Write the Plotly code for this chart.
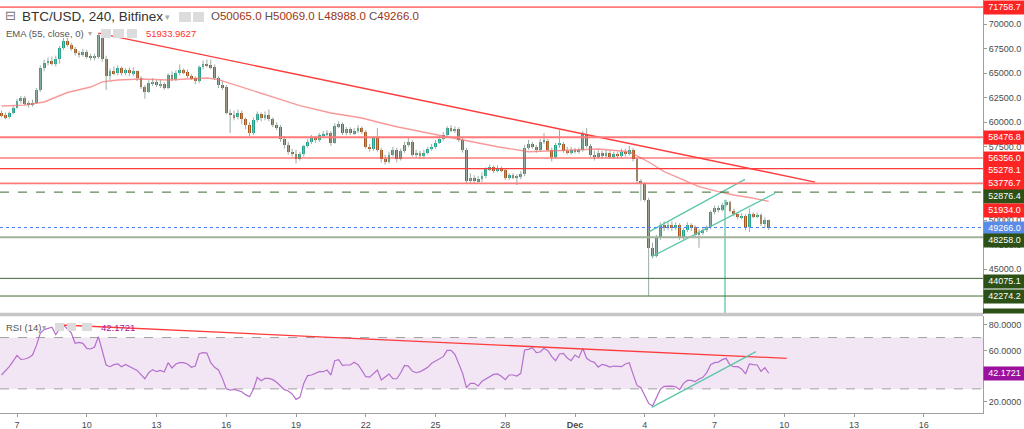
import pandas as pd
import plotly.graph_objects as go

# ---------------- data ----------------
candle_start = "2021-11-06 08:00"   # 4h candles (Bitfinex BTC/USD, 240)

opens = [60900,60700,60500,60900,61500,62200,62500,61900,61800,62000,
         63300,65500,66100,66300,66000,66500,67600,68300,67900,67500,
         67100,66900,67200,66700,66600,66700,68900,66500,64700,65200,
         65000,65500,65000,65300,65000,65200,64500,63600,63100,64000,
         64100,63800,63900,63500,64800,64400,65000,65300,65100,64700,
         64500,64200,65600,65900,65800,65600,64500,63800,63600,61000,
         60700,60500,60900,60300,59700,58900,60200,60800,60400,60700,
         60300,59700,59500,58300,57700,57000,56800,56300,56800,57600,
         58000,58400,58200,58700,58800,58900,57900,59600,59800,58900,
         59300,58900,59100,59400,59000,57500,57300,58400,57200,56300,
         56000,56700,57200,56300,57100,57700,58000,56700,56900,56600,
         56900,57300,57500,57900,58300,58700,59400,59200,59300,58200,
         57200,54000,54300,54000,54200,54500,55200,55400,55000,55300,
         55100,54300,54600,54400,54500,54700,57400,57800,57500,57200,
         58000,58100,57200,56500,57700,57800,57100,56900,57200,57000,
         57200,58800,57600,56700,56500,56900,56600,56900,56500,56800,
         56600,57000,56800,57200,56300,54000,53700,52100,47200,46400,
         48200,49500,49300,49500,49200,49500,48200,49000,49500,49300,
         48500,48800,49000,49300,50800,51300,51100,51600,51900,51000,
         50600,50300,50400,49300,50600,50400,50500,49600,50065.0]

highs = [61200,61000,61100,61700,62400,62700,62700,62200,62300,63500,
         65800,66400,66600,66700,66800,67800,68600,68600,68100,67700,
         67300,67500,67400,67000,67000,69100,69200,66800,65500,65700,
         65800,65700,65500,65600,65600,65300,64700,63800,64300,64500,
         64300,64300,64100,65000,65200,65300,65900,65500,65400,64900,
         64700,65800,66300,66400,66400,65900,64700,64200,63800,61300,
         61200,61300,61200,60500,60000,60500,61100,61000,61100,61300,
         60500,60000,59700,58600,58000,57300,57200,57000,57700,58300,
         58700,58600,58900,59100,59200,59100,59900,60100,60000,59500,
         59500,59400,59700,59600,59200,57800,58600,59400,57400,56700,
         57000,57500,57400,57300,58000,58400,58200,57200,57100,57200,
         57500,57800,58200,58600,59000,59600,59700,59600,59500,58400,
         57400,54800,54600,54500,54900,55400,55700,55600,55600,55500,
         55300,54800,54800,54700,55000,57700,58200,58000,57700,58300,
         58900,58300,57400,57900,59200,58000,57500,57500,57400,57400,
         59100,59400,57800,57100,57200,57100,57200,57100,57000,57000,
         57300,57300,57600,57400,56400,54200,53900,52300,47700,48500,
         49800,49900,49800,49900,49800,49700,49200,49800,49700,49500,
         49100,49300,49500,51000,51500,51500,51800,52100,52000,51200,
         50800,50700,50600,51200,50800,50800,50700,50300,50069.0]

lows = [60500,60300,60400,60800,61400,61900,61700,61500,61600,61900,
        63100,65200,65800,65800,65700,66000,67400,67700,67300,66800,
        66600,66700,66500,66300,66300,66500,66200,63300,64300,64800,
        64800,64800,64800,64700,64700,64200,63400,62400,63000,63700,
        63600,63500,63300,63400,64200,64200,64800,64900,64500,64300,
        63900,64000,65400,65600,65400,64300,63500,63300,60800,58900,
        60200,60300,59800,59300,58600,58700,60000,60100,60200,60100,
        59500,59200,58000,57300,56700,56500,55800,56100,56500,57400,
        57800,57900,58000,58500,58600,57600,57800,59400,58700,58700,
        58700,58700,58900,58800,57300,57000,57100,57000,55900,55700,
        55800,56500,55900,56100,56900,57500,56500,56400,56300,56300,
        56700,57100,57300,57800,58100,58500,59000,58900,58000,56900,
        53700,53800,53800,53800,53900,54300,55000,54800,54900,54900,
        54100,54100,54200,53600,54200,54500,57200,57300,56900,57000,
        57800,57000,56000,56300,57400,56900,56700,56700,56800,56800,
        57000,57400,56500,56100,56300,56300,56400,56300,56300,56300,
        56400,56500,56600,56000,53800,52000,51900,42300,46100,46200,
        48000,48900,49000,48900,49000,48000,48000,48800,48900,48300,
        47200,48500,48800,49100,50600,50800,50900,51400,50800,50400,
        50100,50100,49000,48800,50200,50200,49400,49300,48988.0]

closes = [60700,60500,60900,61500,62200,62500,61900,61800,62000,63300,
          65500,66100,66300,66000,66500,67600,68300,67900,67500,67100,
          66900,67200,66700,66600,66700,68900,66500,64700,65200,65000,
          65500,65000,65300,65000,65200,64500,63600,63100,64000,64100,
          63800,63900,63500,64800,64400,65000,65300,65100,64700,64500,
          64200,65600,65900,65800,65600,64500,63800,63600,61000,60700,
          60500,60900,60300,59700,58900,60200,60800,60400,60700,60300,
          59700,59500,58300,57700,57000,56800,56300,56800,57600,58000,
          58400,58200,58700,58800,58900,57900,59600,59800,58900,59300,
          58900,59100,59400,59000,57500,57300,58400,57200,56300,56000,
          56700,57200,56300,57100,57700,58000,56700,56900,56600,56900,
          57300,57500,57900,58300,58700,59400,59200,59300,58200,57200,
          54000,54300,54000,54200,54500,55200,55400,55000,55300,55100,
          54300,54600,54400,54500,54700,57400,57800,57500,57200,58000,
          58100,57200,56500,57700,57800,57100,56900,57200,57000,57200,
          58800,57600,56700,56500,56900,56600,56900,56500,56800,56600,
          57000,56800,57200,56300,54000,53700,52100,47200,46400,48200,
          49500,49300,49500,49200,49500,48200,49000,49500,49300,48500,
          48800,49000,49300,50800,51300,51100,51600,51900,51000,50600,
          50300,50400,49300,50600,50400,50500,49600,50065,49266.0]

rsi_values = [40.8,43.7,47.3,51.7,56.1,53.0,53.3,54.3,56.4,63.7,
              73.3,76.2,76.9,78.0,72.3,76.9,79.8,76.7,73.6,65.5,
              66.3,65.5,61.6,61.1,62.6,70.7,58.7,48.6,47.3,48.9,
              49.4,47.3,49.1,47.6,45.5,44.4,41.1,37.9,42.6,45.0,
              43.4,44.4,43.1,50.4,46.3,49.4,50.4,50.4,49.4,46.8,
              47.8,57.4,58.2,57.9,50.4,46.8,44.7,38.2,30.1,29.1,
              29.6,28.6,27.8,25.5,23.9,29.6,39.0,36.4,38.2,38.2,
              37.2,35.1,32.2,29.4,28.3,26.0,21.8,23.4,34.3,40.3,
              40.8,41.8,43.4,43.4,44.7,40.8,52.0,52.8,48.3,48.6,
              48.6,50.7,48.9,44.4,39.5,39.2,41.6,44.7,36.9,39.2,
              41.6,37.9,37.9,42.4,48.3,47.8,43.9,42.6,43.4,45.0,
              46.8,49.9,51.7,53.0,55.1,60.0,60.0,56.9,49.4,42.1,
              30.9,34.3,34.3,32.2,35.9,37.7,39.0,41.3,41.6,39.8,
              37.2,40.8,40.8,40.0,42.1,60.3,60.8,62.1,58.2,58.7,
              61.6,59.8,55.1,52.0,57.2,57.7,54.1,52.0,56.4,54.3,
              61.6,53.8,51.7,50.7,47.0,49.1,48.3,47.0,47.8,47.3,
              47.3,49.4,50.4,41.3,32.7,30.9,24.7,18.7,16.6,23.4,
              29.6,32.0,32.2,32.2,31.7,29.4,34.3,36.6,36.6,35.6,
              37.7,39.0,42.6,48.9,50.4,50.9,52.8,53.8,48.6,47.3,
              47.3,45.5,41.6,49.4,48.9,48.6,43.7,46.5,42.1721]

ema_times = ["2021-11-06 08:00","2021-11-07 08:00","2021-11-08 04:00","2021-11-09 04:00",
             "2021-11-10 04:00","2021-11-10 16:00","2021-11-11 08:00","2021-11-12 08:00",
             "2021-11-13 12:00","2021-11-14 08:00","2021-11-15 04:00","2021-11-15 16:00",
             "2021-11-16 08:00","2021-11-17 00:00","2021-11-17 16:00","2021-11-18 08:00",
             "2021-11-19 04:00","2021-11-20 12:00","2021-11-21 20:00","2021-11-22 16:00",
             "2021-11-23 08:00","2021-11-24 16:00","2021-11-25 12:00","2021-11-26 04:00",
             "2021-11-26 20:00","2021-11-27 16:00","2021-11-29 00:00","2021-11-30 12:00",
             "2021-12-02 00:00","2021-12-03 08:00","2021-12-04 04:00","2021-12-04 20:00",
             "2021-12-05 16:00","2021-12-06 08:00","2021-12-07 04:00","2021-12-07 20:00",
             "2021-12-08 12:00","2021-12-09 08:00"]
ema_values = [61660,61750,62070,63040,63600,64120,64320,64420,64320,64420,64520,64350,
              63850,63400,62900,62400,61700,60950,60440,59930,59550,58910,58530,58240,
              57890,57510,57000,57170,57270,57000,55950,54960,54110,53430,52920,52580,
              52330,51934]
ema_legend_value = 51933.9627

red_levels = [71758.7, 58476.8, 56356.0, 55278.1, 53776.7]
green_levels = [48258.0, 44075.1, 42274.2, 40435.0]
dashed_level = 52876.4

trend_time = ["2021-11-10 12:00", "2021-12-11 07:45"]
trend_price = [69100, 53900]
chan_up_time = ["2021-12-04 04:40", "2021-12-08 07:30"]
chan_up_price = [48840, 54180]
chan_lo_time = ["2021-12-04 07:10", "2021-12-09 14:30"]
chan_lo_price = [46290, 52760]
vline_time = "2021-12-07 10:50"
vline_price = [52100, 40000]
rsi_trend_time = ["2021-11-08 22:00", "2021-12-10 02:30"]
rsi_trend_vals = [79.8, 53.8]
rsi_up_time = ["2021-12-04 07:10", "2021-12-08 18:50"]
rsi_up_vals = [15.6, 59.0]

x_tick_dates = ["2021-11-07","2021-11-10","2021-11-13","2021-11-16","2021-11-19","2021-11-22",
                "2021-11-25","2021-11-28","2021-12-01","2021-12-04","2021-12-07","2021-12-10",
                "2021-12-13","2021-12-16"]
x_tick_text = ["7","10","13","16","19","22","25","28","<b>Dec</b>","4","7","10","13","16"]
price_ticks = [45000,47500,50000,52500,55000,57500,60000,62500,65000,67500,70000]
rsi_ticks = [20, 60, 80]

# ---------------- style ----------------
FONT = "Liberation Sans"
UP = "#22a28a"
DOWN = "#a8561e"
WICK = "#9aada2"
RED_BOX = "#ff2424"
GREEN_BOX = "#2d5016"
BLUE_BOX = "#5a8be6"
PURPLE_BOX = "#9b119e"
W, H = 1024, 429
PLOT_W, PLOT_H = 983, 413

def px(x):
    return x / PLOT_W

def py(y):
    return (PLOT_H - y) / PLOT_H

times = pd.date_range(candle_start, periods=len(closes), freq="4h")
x_range = ["2021-11-06 06:27", "2021-12-18 13:09"]

fig = go.Figure()

# wicks
wx, wy = [], []
for t, h, l in zip(times, highs, lows):
    wx += [t, t, None]
    wy += [l, h, None]
fig.add_trace(go.Scatter(x=wx, y=wy, mode="lines", line=dict(color=WICK, width=1),
                         hoverinfo="skip", xaxis="x", yaxis="y"))

# bodies
bw = 4 * 3600 * 1000 * 0.72
for is_up, col in [(True, UP), (False, DOWN)]:
    bx, bb, bh = [], [], []
    for t, o, c in zip(times, opens, closes):
        if (c >= o) == is_up:
            bx.append(t)
            bb.append(min(o, c))
            bh.append(max(abs(c - o), 100))
    fig.add_trace(go.Bar(x=bx, y=bh, base=bb, width=bw, marker=dict(color=col, line=dict(width=0)),
                         hoverinfo="skip", xaxis="x", yaxis="y"))

# EMA
fig.add_trace(go.Scatter(x=pd.to_datetime(ema_times), y=ema_values, mode="lines",
                         line=dict(color="rgba(245,110,110,0.7)", width=1.4),
                         hoverinfo="skip", xaxis="x", yaxis="y"))

# trend lines
fig.add_trace(go.Scatter(x=pd.to_datetime(trend_time), y=trend_price, mode="lines",
                         line=dict(color="#ff3b3b", width=1.4), hoverinfo="skip"))
for tt, pp in [(chan_up_time, chan_up_price), (chan_lo_time, chan_lo_price)]:
    fig.add_trace(go.Scatter(x=pd.to_datetime(tt), y=pp, mode="lines",
                             line=dict(color="#5cc6ab", width=1.3), hoverinfo="skip"))
fig.add_trace(go.Scatter(x=pd.to_datetime([vline_time, vline_time]), y=vline_price, mode="lines",
                         line=dict(color="#5cc6ab", width=1.3), hoverinfo="skip"))

# RSI
fig.add_trace(go.Scatter(x=times, y=rsi_values, mode="lines",
                         line=dict(color="#b56fcc", width=1.2), hoverinfo="skip",
                         xaxis="x2", yaxis="y2"))
fig.add_trace(go.Scatter(x=pd.to_datetime(rsi_trend_time), y=rsi_trend_vals, mode="lines",
                         line=dict(color="#ff3b3b", width=1.3), hoverinfo="skip",
                         xaxis="x2", yaxis="y2"))
fig.add_trace(go.Scatter(x=pd.to_datetime(rsi_up_time), y=rsi_up_vals, mode="lines",
                         line=dict(color="#5cc6ab", width=1.3), hoverinfo="skip",
                         xaxis="x2", yaxis="y2"))

shapes = []
# RSI band
shapes.append(dict(type="rect", xref="x2 domain", yref="y2", x0=0, x1=1, y0=30, y1=70,
                   fillcolor="#f2e6f4", line=dict(width=0), layer="below"))
for lv in (70, 30):
    shapes.append(dict(type="line", xref="x2 domain", yref="y2", x0=0, x1=1, y0=lv, y1=lv,
                       line=dict(color="#a0a0a0", width=1, dash="dash"), layer="below"))
# horizontal levels
for lv in red_levels:
    strong = lv in (56356.0, 55278.1)
    shapes.append(dict(type="line", xref="x domain", yref="y", x0=0, x1=1, y0=lv, y1=lv,
                       line=dict(color="#ff3a3a" if strong else "#ff7a7a", width=1.2 if strong else 1.8)))
shapes.append(dict(type="line", xref="x domain", yref="y", x0=0, x1=1, y0=dashed_level, y1=dashed_level,
                   line=dict(color="#3c6b2c", width=1, dash="dash")))
for lv in green_levels:
    thick = lv == 48258.0
    shapes.append(dict(type="line", xref="x domain", yref="y", x0=0, x1=1, y0=lv, y1=lv,
                       line=dict(color="#a2b29b" if thick else "#3f6a33", width=2 if thick else 1)))
shapes.append(dict(type="line", xref="x domain", yref="y", x0=0, x1=1, y0=closes[-1], y1=closes[-1],
                   line=dict(color="#4a7cf5", width=1, dash="dot")))
# pane separator
shapes.append(dict(type="line", xref="paper", yref="paper", x0=0, x1=1, y0=py(314.5), y1=py(314.5),
                   line=dict(color="#c6c6c6", width=3.5)))
# partial label box at bottom of price pane
shapes.append(dict(type="rect", xref="paper", yref="paper", x0=1, x1=W / PLOT_W, y0=py(313.5), y1=py(308.5),
                   fillcolor=GREEN_BOX, line=dict(width=0)))
# legend icon boxes
for x0, x1, y0, y1 in [(179, 191, 12, 22), (193, 204, 12, 22),
                       (101, 111, 29, 38), (113, 124, 29, 38), (127, 137, 29, 38),
                       (55, 64, 323, 331), (67, 76, 323, 331), (82, 92, 323, 331)]:
    shapes.append(dict(type="rect", xref="paper", yref="paper", x0=px(x0), x1=px(x1),
                       y0=py(y1), y1=py(y0), fillcolor="#dcdcdc", line=dict(width=0)))

ann = []
def text(x, y, s, size, color, family=FONT):
    ann.append(dict(x=px(x), y=py(y), xref="paper", yref="paper", xanchor="left", yanchor="middle",
                    text=s, showarrow=False, font=dict(size=size, color=color, family=family)))

text(3, 16, "⊟", 13, "#777777", "DejaVu Sans")
text(20, 16.5, "BTC/USD, 240, Bitfinex", 13.5, "#333333")
text(163, 17, "▾", 9, "#aaaaaa", "DejaVu Sans")
vc = "#9b3412"
lc = "#555555"
ohlc = (f"<span style='color:{lc}'>O</span><span style='color:{vc}'>{opens[-1]:.1f}</span> "
        f"<span style='color:{lc}'>H</span><span style='color:{vc}'>{highs[-1]:.1f}</span> "
        f"<span style='color:{lc}'>L</span><span style='color:{vc}'>{lows[-1]:.1f}</span> "
        f"<span style='color:{lc}'>C</span><span style='color:{vc}'>{closes[-1]:.1f}</span>")
text(209, 16.5, ohlc, 11.5, vc)
text(4, 34, "EMA (55, close, 0)", 9.5, "#555555")
text(86, 34, "▾", 8, "#aaaaaa", "DejaVu Sans")
text(144, 34, f"{ema_legend_value:.4f}", 9.5, "#ff3030")
text(4, 327, "RSI (14)", 9.5, "#555555")
text(40, 327, "▾", 8, "#aaaaaa", "DejaVu Sans")
text(99, 327, f"{rsi_values[-1]:.4f}", 9.5, "#a020a0")

def axis_label(val, color, shift=0, yref="y"):
    ann.append(dict(x=1, xref="paper", y=val, yref=yref, xanchor="left", yanchor="middle",
                    text=f"{val:.1f}" if yref == "y" else f"{val:.4f}", showarrow=False,
                    font=dict(size=9, color="white", family=FONT), bgcolor=color,
                    width=41, height=12.5, align="center", yshift=shift, borderpad=0))

axis_label(red_levels[0], RED_BOX)
axis_label(red_levels[1], RED_BOX)
axis_label(red_levels[2], RED_BOX)
axis_label(red_levels[3], RED_BOX, -2)
axis_label(red_levels[4], RED_BOX)
axis_label(dashed_level, GREEN_BOX, -4.5)
axis_label(ema_values[-1], RED_BOX, -8.7)
axis_label(closes[-1], BLUE_BOX, -0.8)
axis_label(green_levels[0], GREEN_BOX, -3)
axis_label(green_levels[1], GREEN_BOX, -2.7)
axis_label(green_levels[2], GREEN_BOX)
axis_label(rsi_values[-1], PURPLE_BOX, 0, "y2")

tickfont = dict(size=9, color="#4a4a4a", family=FONT)
fig.update_layout(
    width=W, height=H, margin=dict(l=0, r=W - PLOT_W, t=0, b=H - PLOT_H),
    paper_bgcolor="white", plot_bgcolor="white", showlegend=False,
    barmode="overlay", bargap=0, hovermode=False,
    shapes=shapes, annotations=ann,
    xaxis=dict(domain=[0, 1], range=x_range, type="date", anchor="y", showgrid=False,
               zeroline=False, showticklabels=False, ticks="", showline=False),
    xaxis2=dict(domain=[0, 1], range=x_range, type="date", anchor="y2", matches="x",
                tickmode="array", tickvals=x_tick_dates, ticktext=x_tick_text,
                ticks="outside", ticklen=3, tickcolor="#9a9a9a", tickfont=tickfont,
                showline=True, linecolor="#a0a0a0", linewidth=1, showgrid=False, zeroline=False),
    yaxis=dict(domain=[(PLOT_H - 314) / PLOT_H, 1], range=[40439, 72480], side="right", anchor="x",
               tickmode="array", tickvals=price_ticks, tickformat=".1f", ticks="outside",
               ticklen=3, tickcolor="#9a9a9a", tickfont=tickfont, showline=True,
               linecolor="#a0a0a0", showgrid=False, zeroline=False),
    yaxis2=dict(domain=[0, (PLOT_H - 316) / PLOT_H], range=[11.2, 86.8], side="right", anchor="x2",
                tickmode="array", tickvals=rsi_ticks, tickformat=".4f", ticks="outside",
                ticklen=3, tickcolor="#9a9a9a", tickfont=tickfont, showline=True,
                linecolor="#a0a0a0", showgrid=False, zeroline=False),
)

fig.write_html("out.html")
